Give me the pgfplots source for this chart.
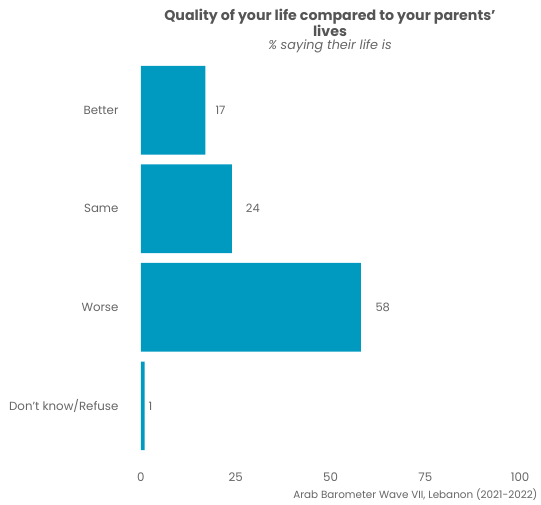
\documentclass[border=0pt]{standalone}
\usepackage{pgfplots}
\pgfplotsset{compat=1.18}
\usepackage{fontspec}
\setmainfont{Poppins}
\definecolor{barc}{HTML}{0099C0}
\definecolor{txt}{HTML}{666666}
\definecolor{ttl}{HTML}{555555}
\newcommand{\sq}{{\char"0027}}
\begin{document}
\begin{tikzpicture}
\useasboundingbox (0pt,0pt) rectangle (541pt,504pt);
\begin{axis}[at={(122pt,39pt)}, anchor=south west, scale only axis,
  width=417pt, height=414pt,
  xmin=-5, xmax=105, ymin=0.4, ymax=4.6, y dir=reverse,
  xbar, bar width=0.9, bar shift=0pt,
  axis line style={draw=none}, major tick length=0pt,
  xtick={0,25,50,75,100}, ytick={1,2,3,4},
  yticklabels={Better,Same,Worse,Don\sq t know/Refuse},
  ticklabel style={font=\fontsize{11.8}{13}\selectfont, text=txt},
  xticklabel style={yshift=-4pt},
  /pgf/number format/assume math mode=true,
  nodes near coords={\makebox[2\width][r]{\pgfmathprintnumber{\pgfplotspointmeta}}},
  nodes near coords style={anchor=west, inner xsep=0pt, font=\fontsize{11.5}{13}\selectfont, text=txt},
  clip=false,
]
\addplot[fill=barc, draw=none] coordinates {(17,1) (24,2) (58,3) (1,4)};
\end{axis}
\node[font=\bfseries\fontsize{14.2}{15}\selectfont, text=ttl, align=center] at (330pt,481.5pt) {Quality of your life compared to your parents\sq\\lives};
\node[font=\itshape\fontsize{12.8}{14}\selectfont, text=txt] at (330pt,457.5pt) {\% saying their life is};
\node[font=\fontsize{10.4}{12}\selectfont, text=txt, anchor=east] at (541pt,9pt) {Arab Barometer Wave VII, Lebanon (2021-2022)};
\end{tikzpicture}
\end{document}
